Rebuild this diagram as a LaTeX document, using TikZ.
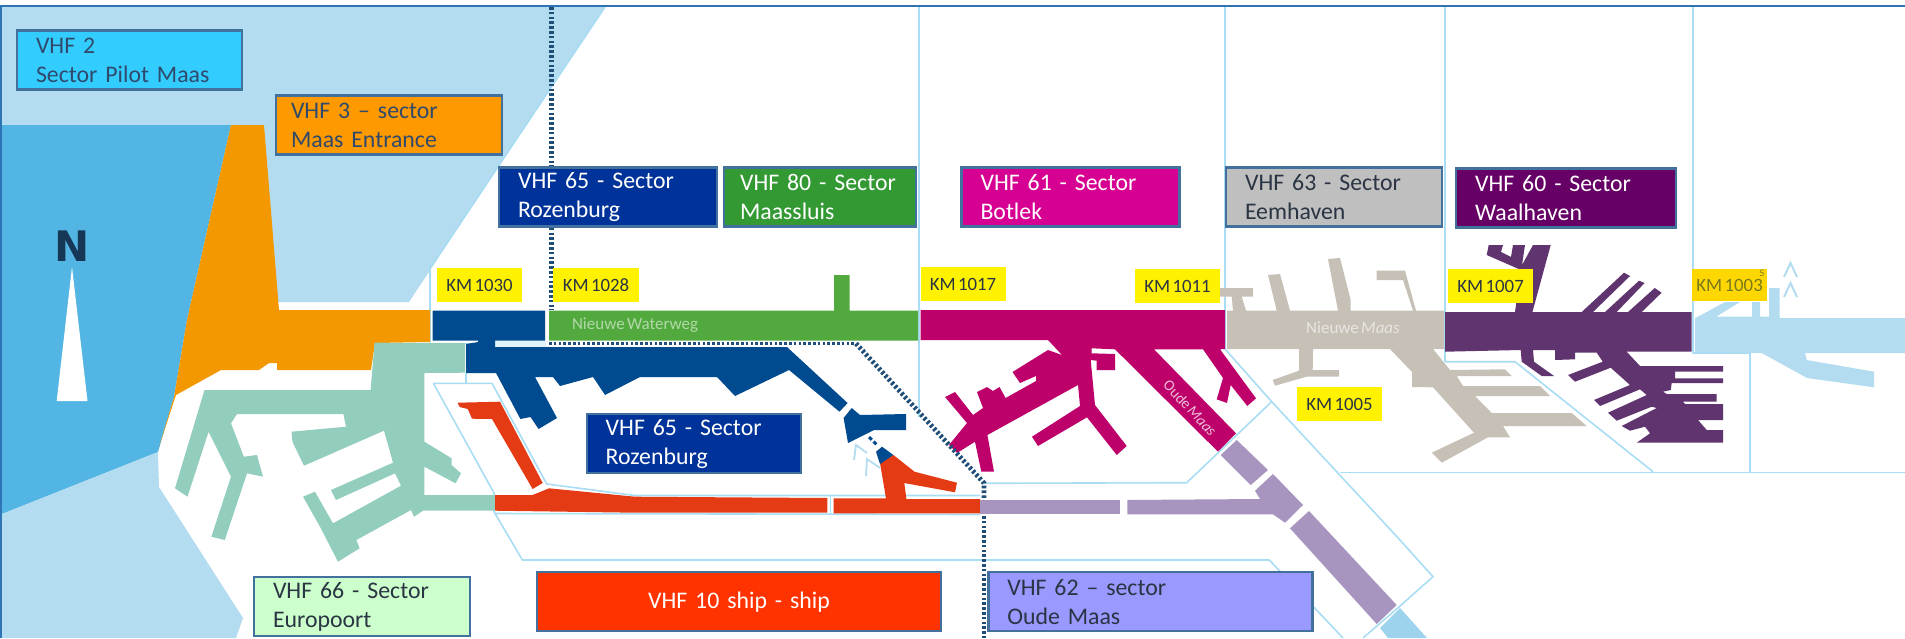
\documentclass[tikz,border=0pt]{standalone}
\usepackage{fontspec}
\setmainfont[WordSpace=0.6]{Carlito}
\newfontfamily\nfont{DejaVu Sans}
\definecolor{seal}{HTML}{B3DCF0}
\definecolor{sead}{HTML}{53B5E3}
\definecolor{pale}{HTML}{A9DDF3}
\definecolor{orng}{HTML}{F39800}
\definecolor{teal2}{HTML}{93CDBD}
\definecolor{navy2}{HTML}{004A8F}
\definecolor{red2}{HTML}{E53B15}
\definecolor{green2}{HTML}{52AA3E}
\definecolor{mag2}{HTML}{BD006A}
\definecolor{lilac}{HTML}{A795C0}
\definecolor{tip2}{HTML}{9DD3EC}
\definecolor{grey2}{HTML}{C6C0B7}
\definecolor{purp}{HTML}{60346F}
\definecolor{dots}{HTML}{1F4E79}
\definecolor{bord}{HTML}{41719C}
\definecolor{frame2}{HTML}{2E75B6}
\definecolor{txa}{HTML}{2F4A6C}
\definecolor{txb}{HTML}{2A3442}
\tikzset{
  paleline/.style={draw=pale,line width=0.8pt,line join=round},
  dotline/.style={draw=dots,line width=2.4pt,dash pattern=on 1.3pt off 1.1pt},
  vhfbox/.style={draw=bord,line width=1.2pt,inner xsep=9.5pt,inner ysep=0pt,align=left,
    minimum height=29.5pt,font=\fontsize{11.9}{14.5}\selectfont},
  kmbox/.style={fill=yellow,text=txb,inner sep=0pt,minimum height=17pt,
    font=\fontsize{9.4}{11}\selectfont},
  wlabel/.style={inner sep=0pt,font=\fontsize{8.5}{10}\selectfont},
}
\begin{document}
\begin{tikzpicture}[x=0.5pt,y=-0.5pt]
\useasboundingbox (0,0) rectangle (1905,638);
\fill[white] (0,0) rectangle (1905,638);
% sea
\fill[seal] (2,7) -- (605,7) -- (409,302) -- (270,302) -- (264,125) -- (2,125) -- cycle;
\fill[sead] (2,125) -- (231,125) -- (187,320) -- (174,397) -- (158,452) -- (2,514) -- cycle;
\fill[seal] (2,514) -- (158,452) -- (159,487) -- (243,618) -- (236,638) -- (2,638) -- cycle;
% pale channel lines
\draw[paleline] (605,7) -- (430,268) -- (430,342);
\draw[paleline] (919,7) -- (919,417);
\draw[paleline] (1225,7) -- (1225,349) -- (1271.7,401.7) -- (1400,540) -- (1433,576.7) -- (1400,606) -- (1363,638);
\draw[paleline] (1271.7,401.7) -- (1186.7,482.7) -- (983,483.3);
\draw[paleline] (1445,7) -- (1445,361.7) -- (1515,361.7) -- (1653,471.7);
\draw[paleline] (1693,7) -- (1693,352.7) -- (1750,352.7) -- (1750,472);
\draw[paleline] (1340,472.5) -- (1905,472.5);
\draw[paleline] (465.7,373) -- (465.7,383.3);
\draw[paleline] (433.4,383.3) -- (492,383.3) -- (546.8,484) -- (635,495.5) -- (980,495.5);
\draw[paleline] (433.4,383.3) -- (494,493) -- (494,511.7) -- (522.4,560) -- (1269.3,560) -- (1343,638);
\draw[paleline] (494,513.5) -- (980,514.5);
\draw[paleline] (830.5,496) -- (830.5,514);
\draw[paleline] (437,343.5) -- (478,343.5);
\fill[pale!35] (495,341) rectangle (549,347);
% orange
\fill[orng] (231,125) -- (264,125) -- (279,310) -- (430,310) -- (430,342) -- (375,343) -- (371,370) -- (277,370) -- (277,363) -- (269,363) -- (259,370) -- (221,370) -- (176,395) -- (159,447) -- (174,397) -- (187,320) -- cycle;
% teal
\fill[teal2] (374.6,342.7) -- (465,343) -- (465,372.7) -- (424.4,373) -- (424.4,441.7) -- (451.6,458.3) -- (451.6,465) -- (461,473.3) -- (455.6,483.3) -- (424.4,466.7) -- (424.4,495) -- (495,495) -- (495,510.7) -- (423,510.7) -- (414,516.7) -- (411,510) -- (356.4,540) -- (359.6,548.3) -- (338,561.7) -- (320,526.7) -- (303,496.7) -- (315,491.7) -- (333,523.3) -- (401,485.7) -- (395,473.3) -- (336,500) -- (331,490) -- (393,462.7) -- (384,430.7) -- (304,465.7) -- (292.4,441.7) -- (291.6,431.7) -- (346,426.7) -- (343.4,414) -- (237,414) -- (231,423.3) -- (243.8,456.7) -- (257,455) -- (263,476.7) -- (247,473.3) -- (224.8,540) -- (211.4,536.7) -- (231,476.7) -- (208.6,431.7) -- (187.5,496.7) -- (175,488.3) -- (204.5,390) -- (370.6,390) -- cycle;
% navy
\fill[navy2] (432.7,310.7) -- (545,310.7) -- (545,340.7) -- (495,340.7) -- (495,347) -- (787,347) -- (847.6,403) -- (839.5,411.7) -- (789,370) -- (735,396) -- (717,377) -- (640,377) -- (605,395) -- (593,377) -- (560,386) -- (553,377) -- (535,377) -- (557,418) -- (538.6,429) -- (530.5,417) -- (520.4,419) -- (496,373) -- (466,373) -- (466,344) -- (478,342) -- (478,340.7) -- (432.7,340.7) -- cycle;
\fill[navy2] (851.7,408) -- (860,415) -- (906,414) -- (906,430) -- (874,430) -- (848,443) -- (843.6,418) -- cycle;
% red
\fill[red2] (457.6,402.7) -- (500,401.7) -- (542.7,483) -- (532.6,489) -- (492,419) -- (472,418.7) -- (467.8,409) -- (459.7,407) -- cycle;
\fill[red2] (495,495) -- (532.6,495) -- (549,488.3) -- (635,496.7) -- (827.4,498) -- (827.4,512.7) -- (635,512.7) -- (495,510.7) -- cycle;
\fill[red2] (833.5,498.3) -- (886,498.3) -- (880,463) -- (893.4,455) -- (914.5,471.7) -- (957,482.7) -- (955,492.3) -- (904.3,483) -- (906.4,499) -- (980,499) -- (980,513.3) -- (833.5,513.3) -- cycle;
\fill[navy2] (882,446.7) -- (893.4,455) -- (880,464) -- (876,451.7) -- cycle;
\draw[draw=navy2,line width=1.5pt,dash pattern=on 2pt off 1.2pt] (869,437) -- (878,446);
% chevrons
\draw[draw=seal,line width=0.9pt] (854,460) -- (856,445) -- (867,453);
\draw[draw=seal,line width=0.9pt] (866,476) -- (867,459) -- (880,468);
\draw[draw=seal,line width=1pt] (1784,277) -- (1790.5,263) -- (1797,277);
\draw[draw=seal,line width=1pt] (1784,297) -- (1790.5,283) -- (1797,297);
% green
\fill[green2] (549,310.7) -- (834,310.7) -- (834,275) -- (849.6,275) -- (849.6,310.7) -- (918,310.7) -- (918,340.5) -- (549,340.5) -- cycle;
% magenta
\fill[mag2] (920.5,310) -- (1225,310) -- (1225,349) -- (1220,349.3) -- (1256,398.3) -- (1247.3,406) -- (1230.7,385) -- (1227,403) -- (1216.7,399.3) -- (1223,378) -- (1203,349.3) -- (1154,349.3) -- (1236,433.3) -- (1218,451.7) -- (1115,349.3) -- (1091.7,348.3) -- (1091.7,353.3) -- (1115,354) -- (1115,370) -- (1096.7,370) -- (1096.7,360.7) -- (1090.7,360) -- (1095,405) -- (1126.7,446) -- (1116.7,455) -- (1087,417.3) -- (1038,446) -- (1032,436.7) -- (1080,406) -- (1078,385) -- (987.4,435) -- (994,471.7) -- (981.3,471.7) -- (975,441.7) -- (957,453) -- (949,445) -- (967,423) -- (945,397) -- (955,392) -- (973,415) -- (983,408) -- (977,392) -- (987,387) -- (993,391) -- (999.5,387) -- (1005.6,398) -- (1036,381) -- (1036,376) -- (1020,383) -- (1012.5,372) -- (1048,350) -- (1062,355) -- (1048,340) -- (920.5,340) -- cycle;
% lilac
\fill[lilac] (1236.7,440) -- (1268,470) -- (1250.7,485) -- (1220.7,455) -- cycle;
\fill[lilac] (1273,474) -- (1303,505) -- (1285,522.7) -- (1273,514.3) -- (1127.3,514.3) -- (1127.3,500) -- (1260,499) -- (1255,490.7) -- cycle;
\fill[lilac] (1309,511) -- (1396.7,605) -- (1376.7,624) -- (1290,528.3) -- cycle;
\fill[lilac] (980,499.5) -- (1120,499.5) -- (1120,513.5) -- (980,513.5) -- cycle;
\fill[tip2] (1380,628) -- (1400,608) -- (1427,638) -- (1388,638) -- cycle;
% grey
\fill[grey2] (1227,310.7) -- (1233,310.7) -- (1231.7,296.7) -- (1220,296.7) -- (1220,288) -- (1253,288) -- (1253,296.7) -- (1241.7,296.7) -- (1246,310.7) -- (1276.7,310.7) -- (1268,275) -- (1280,274) -- (1290,310.7) -- (1338,310.7) -- (1328,259) -- (1340,258) -- (1350.7,300) -- (1350.7,310.7) -- (1413,310.7) -- (1403,280) -- (1376.7,280) -- (1376.7,270.7) -- (1405,270.7) -- (1416,310.7) -- (1444,310.7) -- (1444,349) -- (1433,349) -- (1450,370) -- (1505,369.3) -- (1511.7,376) -- (1456.7,376) -- (1463,386) -- (1540,386) -- (1550,396) -- (1475,396) -- (1491.7,413) -- (1571.7,413) -- (1586.7,426) -- (1503,426) -- (1510,437.3) -- (1488,437.3) -- (1441.7,462.7) -- (1431.7,452.7) -- (1474,432.7) -- (1433,387.3) -- (1412,387) -- (1412,372) -- (1390,349) -- (1313,349) -- (1312.7,370) -- (1339,370) -- (1339,376.7) -- (1306.7,376.7) -- (1275,385.7) -- (1272.7,380) -- (1299,370.7) -- (1299,349) -- (1227,349) -- cycle;
% purple
\fill[purp] (1445,312) -- (1515,312) -- (1521,270) -- (1486.7,255) -- (1488.7,245) -- (1503,245) -- (1501,252) -- (1511,257) -- (1513,245) -- (1525,245) -- (1522,265) -- (1533,245) -- (1550.7,245) -- (1532.4,312) -- (1581.7,312) -- (1624,272.7) -- (1630,276) -- (1593,312) -- (1605,312) -- (1639,280.7) -- (1644.6,283) -- (1616.7,312) -- (1628,312) -- (1654.7,288) -- (1661.6,292.7) -- (1641.7,312) -- (1691.7,312) -- (1691.7,351.7) -- (1626.7,351.7) -- (1640,366) -- (1723,366) -- (1723,371.7) -- (1675,371.7) -- (1675,378.3) -- (1723,378.3) -- (1723,383) -- (1671.7,383) -- (1670.7,390) -- (1663,391.7) -- (1666.7,394) -- (1716.7,394) -- (1716.7,401.7) -- (1683,401.7) -- (1685,404) -- (1723,404) -- (1723,420) -- (1698,420) -- (1706.7,430) -- (1723,430) -- (1723,442.7) -- (1636.7,442.7) -- (1650,433.3) -- (1645,426.7) -- (1630,430.7) -- (1621.7,426) -- (1656.7,408) -- (1651.7,406.7) -- (1616.7,420.7) -- (1608,412.7) -- (1646.7,395) -- (1640,389.3) -- (1600,406) -- (1594,400) -- (1630,385) -- (1610.7,367.7) -- (1575,381.7) -- (1568,375) -- (1602.7,361.7) -- (1596.7,352.7) -- (1575,352.7) -- (1575,359.3) -- (1555,360) -- (1555,350) -- (1533,350) -- (1534,361.7) -- (1554,376) -- (1541.7,376) -- (1521.7,361.7) -- (1520.7,350) -- (1445,351.7) -- cycle;
% east water
\fill[seal] (1695,318) -- (1703,314) -- (1725,302) -- (1740,302) -- (1716,316.7) -- (1752,316.7) -- (1752,302) -- (1760,302) -- (1760,316.7) -- (1769,316.7) -- (1769,288) -- (1779.5,288) -- (1779.5,318) -- (1905,318) -- (1905,353) -- (1805,353) -- (1806.7,360) -- (1874,371.7) -- (1874,387.3) -- (1807,378) -- (1761.7,353) -- (1695,352) -- cycle;
% dotted sector line
\draw[dotline] (551.6,7) -- (551.6,310);
\draw[draw=white,line width=2pt] (546,343.5) -- (856,343.5);
\draw[draw=dots,line width=1.8pt,dash pattern=on 1.3pt off 1.1pt] (549,343.5) -- (856,343.5);
\draw[dotline] (856,343.5) -- (984,483) -- (984,498);
\draw[dotline] (984,516) -- (984,638);
% north arrow
\fill[white] (72,267) -- (87.5,401) -- (56.7,401) -- cycle;
\node[inner sep=0pt,text=dots!70!black,font=\nfont\bfseries\fontsize{21}{21}\selectfont] (north) at (72,246) {N};
% water labels
\node[wlabel,text=green2!45!white] (nw) at (635,325) {Nieuwe Waterweg};
\node[wlabel,text=grey2!40!white] (nm) at (1353,328) {Nieuwe \textit{Maas}};
\node[wlabel,text=mag2!25!white,rotate=-47,font=\fontsize{7.6}{9}\selectfont] (om) at (1190,408) {Oude \textit{Maas}};
% sector boxes
\node[vhfbox,fill={rgb,255:red,51;green,204;blue,255},text=txa,text width=93.5pt] (b2) at (129.5,60) {VHF 2\\Sector Pilot Maas};
\node[vhfbox,fill={rgb,255:red,255;green,153;blue,0},text=txa,text width=98pt,inner xsep=7.5pt] (b3) at (389,125) {VHF 3 -- sector\\Maas Entrance};
\node[vhfbox,fill={rgb,255:red,0;green,51;blue,153},text=white,text width=90pt] (b65a) at (608,197) {VHF 65 - Sector\\Rozenburg};
\node[vhfbox,fill={rgb,255:red,51;green,153;blue,51},text=white,text width=80pt,inner xsep=8pt] (b80) at (820,197) {VHF 80 - Sector\\Maassluis};
\node[vhfbox,fill={rgb,255:red,214;green,0;blue,147},text=white,text width=90pt] (b61) at (1070.5,197) {VHF 61 - Sector\\Botlek};
\node[vhfbox,fill={rgb,255:red,191;green,191;blue,191},text=txb,text width=89pt] (b63) at (1334,197) {VHF 63 - Sector\\Eemhaven};
\node[vhfbox,fill={rgb,255:red,102;green,0;blue,102},text=white,text width=91pt] (b60) at (1566,198) {VHF 60 - Sector\\Waalhaven};
\node[vhfbox,fill={rgb,255:red,0;green,51;blue,153},text=white,text width=88pt] (b65b) at (693.7,443.5) {VHF 65 - Sector\\Rozenburg};
\node[vhfbox,fill={rgb,255:red,204;green,255;blue,204},text=txb,text width=89pt] (b66) at (362,606.5) {VHF 66 - Sector\\Europoort};
\node[vhfbox,fill={rgb,255:red,255;green,51;blue,0},text=white,text width=183pt,align=center] (b10) at (739,601.7) {VHF 10 ship - ship};
\node[vhfbox,fill={rgb,255:red,153;green,153;blue,255},text=txb,text width=143pt] (b62) at (1150.3,601.7) {VHF 62 -- sector\\Oude Maas};
% km labels
\node[kmbox,minimum width=42.5pt] (k1030) at (479.5,285) {KM 1030};
\node[kmbox,minimum width=43pt] (k1028) at (596,285) {KM 1028};
\node[kmbox,minimum width=42.5pt] (k1017) at (963,284) {KM 1017};
\node[kmbox,minimum width=42.5pt] (k1011) at (1177.5,286) {KM 1011};
\node[kmbox,minimum width=42.5pt] (k1007) at (1490.5,286) {KM 1007};
\node[kmbox,minimum width=42.5pt] (k1005) at (1339.5,404) {KM 1005};
\node[kmbox,fill={rgb,255:red,255;green,215;blue,0},text={rgb,255:red,120;green,120;blue,30},minimum width=37.5pt,minimum height=16pt] (k1003) at (1729.5,285) {KM 1003};
\node[inner sep=0pt,text={rgb,255:red,120;green,120;blue,30},font=\fontsize{5}{5}\selectfont] (k5) at (1762,273) {5};
% frame
\draw[draw=frame2,line width=1pt] (1,638) -- (1,5.7) -- (1905,5.7);
\end{tikzpicture}
\end{document}
